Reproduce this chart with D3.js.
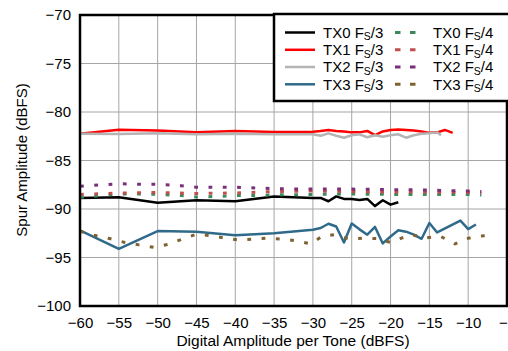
<!DOCTYPE html>
<html><head><meta charset="utf-8">
<script src="https://cdn.jsdelivr.net/npm/d3@7"></script>
<style>body{margin:0;background:#fff}svg{display:block}text{font-family:"Liberation Sans",Arial,sans-serif;fill:#000}</style>
</head><body><svg id="c" width="508" height="351"></svg>
<script>
// ---- data ----
const xTicks = [-60,-55,-50,-45,-40,-35,-30,-25,-20,-15,-10,-5];
const yTicks = [-70,-75,-80,-85,-90,-95,-100];

const tx0Fs3X = [-60,-55,-50,-45,-40,-35,-30,-29,-28,-27,-26,-25,-24,-23,-22,-21,-20,-19];
const tx0Fs3Y = [-88.86,-88.8,-89.35,-89.1,-89.2,-88.7,-88.86,-88.86,-89.2,-88.7,-88.96,-88.96,-89.07,-88.96,-89.7,-89.1,-89.55,-89.3];

const tx1Fs3X = [-60,-55,-50,-45,-40,-35,-30,-29,-28,-27,-26,-25,-24,-23,-22,-21,-20,-19,-18,-17,-16,-15,-14,-13,-12];
const tx1Fs3Y = [-82.24,-81.83,-81.9,-82.1,-81.97,-82.07,-82.03,-81.97,-81.85,-81.95,-82.0,-82.1,-82.1,-81.95,-82.38,-82.0,-81.85,-81.8,-81.85,-81.9,-82.0,-82.15,-82.1,-81.85,-82.15];

const tx2Fs3X = [-60,-55,-50,-45,-40,-35,-30,-29,-28,-27,-26,-25,-24,-23,-22,-21,-20,-19,-18,-17,-16,-15,-14,-13.5];
const tx2Fs3Y = [-82.25,-82.28,-82.2,-82.3,-82.25,-82.3,-82.3,-82.45,-82.2,-82.45,-82.65,-82.4,-82.3,-82.6,-82.4,-82.55,-82.4,-82.3,-82.65,-82.4,-82.25,-82.2,-82.1,-82.4];

const tx3Fs3X = [-60,-55,-50,-45,-40,-35,-30,-29,-28,-27,-26,-25,-24,-23,-22,-21,-20,-19,-18,-17,-16,-15,-14,-11,-10,-9];
const tx3Fs3Y = [-92.2,-94.1,-92.28,-92.35,-92.7,-92.5,-92.14,-91.96,-91.52,-91.8,-93.45,-91.5,-92.1,-92.65,-91.85,-93.55,-92.83,-92.2,-92.34,-92.65,-93.07,-91.44,-92.42,-91.2,-92.07,-91.6];

const tx0Fs4X = [-60,-57,-55,-52,-50,-47,-45,-42,-40,-37,-35,-30,-25,-20,-15,-10,-8.3];
const tx0Fs4Y = [-88.8,-88.6,-88.45,-88.45,-88.5,-88.6,-88.76,-88.7,-88.6,-88.6,-88.55,-88.5,-88.45,-88.5,-88.5,-88.5,-88.55];

const tx1Fs4X = [-60,-55,-50,-45,-40,-35,-30,-25,-20,-15,-10,-8.3];
const tx1Fs4Y = [-88.5,-88.35,-88.3,-88.4,-88.35,-88.2,-88.15,-88.2,-88.25,-88.25,-88.3,-88.35];

const tx2Fs4X = [-60,-57,-55,-52,-50,-47,-45,-42,-40,-37,-35,-30,-25,-20,-15,-10,-8.3];
const tx2Fs4Y = [-87.65,-87.5,-87.4,-87.45,-87.45,-87.6,-87.76,-87.75,-87.75,-87.85,-87.9,-87.95,-87.95,-88.0,-88.05,-88.15,-88.2];

const tx3Fs4X = [-60,-58.2,-56.2,-54.2,-52.4,-50.5,-48.7,-46.8,-45,-43.1,-41.3,-39.5,-37.6,-35.8,-34,-32.3,-30.3,-28.8,-27.2,-25.3,-23.4,-21.7,-20,-18.6,-17.2,-15.6,-13.6,-11.7,-10.4,-8.9,-7.2];
const tx3Fs4Y = [-92.3,-92.7,-93.05,-93.45,-93.7,-93.95,-93.65,-93.1,-92.6,-92.75,-93.0,-93.2,-93.1,-93.0,-93.1,-93.25,-93.6,-92.8,-92.65,-93.1,-93.0,-93.05,-93.45,-93.0,-92.65,-93.0,-92.8,-93.6,-93.1,-92.8,-92.75];

const seriesNames = ["TX0","TX1","TX2","TX3"];
const fs3Colors = ["#000000","#ff0000","#b4b4b4","#2f6a8a"];
const fs4Colors = ["#3c8a5c","#c0504d","#7a2f7a","#7f6232"];

// ---- chart ----
const svg = d3.select("#c");
const L=80, R=507, T=15, B=306;
const x = d3.scaleLinear().domain([-60,-5]).range([L,R]);
const y = d3.scaleLinear().domain([-100,-70]).range([B,T]);

// grid
svg.append("g").selectAll("line").data(xTicks.slice(1,-1)).join("line")
  .attr("x1",d=>x(d)).attr("x2",d=>x(d)).attr("y1",T).attr("y2",B)
  .attr("stroke","#a6a6a6").attr("stroke-width",1);
svg.append("g").selectAll("line").data(yTicks.slice(1,-1)).join("line")
  .attr("x1",L).attr("x2",R).attr("y1",d=>y(d)).attr("y2",d=>y(d))
  .attr("stroke","#a6a6a6").attr("stroke-width",1);

// axes labels via d3 axes
const xAxis = svg.append("g").attr("transform",`translate(0,${B})`)
  .call(d3.axisBottom(x).tickValues(xTicks).tickSize(0).tickPadding(11).tickFormat(d3.format("d")));
const yAxis = svg.append("g").attr("transform",`translate(${L},0)`)
  .call(d3.axisLeft(y).tickValues(yTicks).tickSize(0).tickPadding(9).tickFormat(d3.format("d")));
[xAxis,yAxis].forEach(a=>{a.select(".domain").remove();a.selectAll("text").attr("font-size",15).attr("font-family","Liberation Sans, Arial, sans-serif").attr("fill","#000");});

const line = d3.line().x(d=>x(d[0])).y(d=>y(d[1]));
const zip=(a,b)=>a.map((v,i)=>[v,b[i]]);

const fs3 = [[tx0Fs3X,tx0Fs3Y],[tx1Fs3X,tx1Fs3Y],[tx2Fs3X,tx2Fs3Y],[tx3Fs3X,tx3Fs3Y]];
const fs4 = [[tx0Fs4X,tx0Fs4Y],[tx1Fs4X,tx1Fs4Y],[tx2Fs4X,tx2Fs4Y],[tx3Fs4X,tx3Fs4Y]];

const gData = svg.append("g");
fs3.forEach((s,i)=>{
  gData.append("path").attr("d",line(zip(s[0],s[1]))).attr("fill","none")
    .attr("stroke",fs3Colors[i]).attr("stroke-width",2.5).attr("stroke-linejoin","round");
});
fs4.forEach((s,i)=>{
  gData.append("path").attr("d",line(zip(s[0],s[1]))).attr("fill","none")
    .attr("stroke",fs4Colors[i]).attr("stroke-width",3).attr("stroke-dasharray","3.8,10.5");
});

// frame
svg.append("rect").attr("x",L).attr("y",T).attr("width",R-L).attr("height",B-T)
  .attr("fill","none").attr("stroke","#000").attr("stroke-width",2.5);

// legend
const lg = svg.append("g");
lg.append("rect").attr("x",274).attr("y",14).attr("width",240).attr("height",87)
  .attr("fill","#fff").attr("stroke","#000").attr("stroke-width",2.5);
const rowY = [32.5,49.8,67,84.3];
seriesNames.forEach((n,i)=>{
  lg.append("line").attr("x1",285).attr("x2",315).attr("y1",rowY[i]).attr("y2",rowY[i])
    .attr("stroke",fs3Colors[i]).attr("stroke-width",2.5);
  lg.append("line").attr("x1",395).attr("x2",416).attr("y1",rowY[i]).attr("y2",rowY[i])
    .attr("stroke",fs4Colors[i]).attr("stroke-width",3).attr("stroke-dasharray","5.5,9.5");
  [[323,"/3"],[433,"/4"]].forEach(([tx,suf])=>{
    const t = lg.append("text").attr("x",tx).attr("y",rowY[i]+5.3).attr("font-size",15);
    t.append("tspan").text(n+" F");
    t.append("tspan").attr("font-size",10.5).attr("dy",2.5).text("S");
    t.append("tspan").attr("dy",-2.5).text(suf);
  });
});

// axis titles
svg.append("text").attr("x",293).attr("y",346).attr("text-anchor","middle").attr("font-size",15.5)
  .text("Digital Amplitude per Tone (dBFS)");
svg.append("text").attr("transform","translate(27,160) rotate(-90)").attr("text-anchor","middle").attr("font-size",15)
  .text("Spur Amplitude (dBFS)");
</script></body></html>
